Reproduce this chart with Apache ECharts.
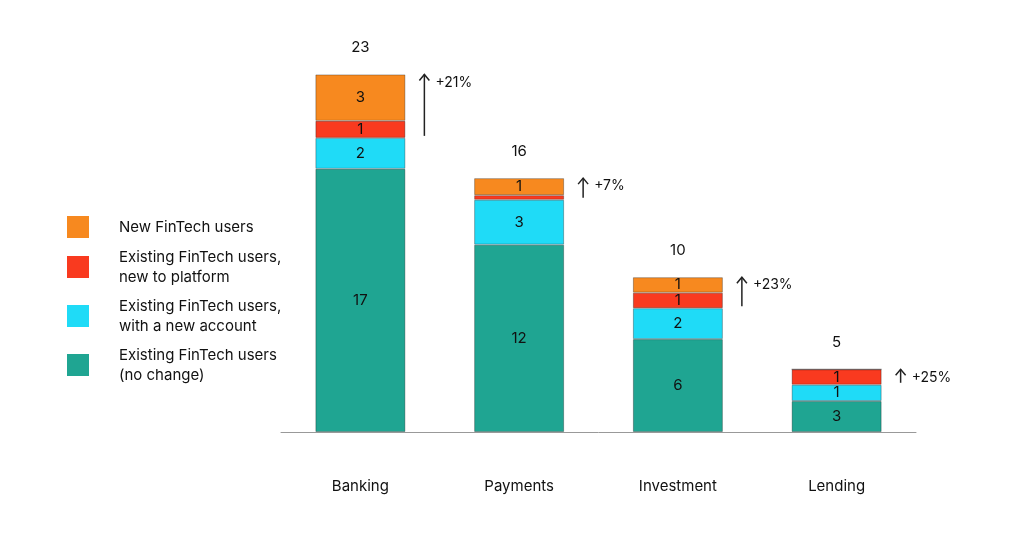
<!DOCTYPE html>
<html>
<head>
<meta charset="utf-8">
<script src="https://cdn.jsdelivr.net/npm/echarts@6/dist/echarts.min.js"></script>
<style>html,body{margin:0;padding:0;background:#fff;}#c{width:1024px;height:536px;}</style>
</head>
<body>
<div id="c"></div>
<script>
var categories = ['Banking', 'Payments', 'Investment', 'Lending'];
var seriesNames = ['Existing FinTech users\n(no change)', 'Existing FinTech users,\nwith a new account', 'Existing FinTech users,\nnew to platform', 'New FinTech users'];
var noChange = [17, 12.1, 6, 2];
var newAccount = [2, 2.9, 2, 1.05];
var newPlatform = [1.1, 0.3, 1, 1];
var newUsers = [3, 1.1, 1, 0];
var noChangeLabels = ['17', '12', '6', '3'];
var newAccountLabels = ['2', '3', '2', '1'];
var newPlatformLabels = ['1', '', '1', '1'];
var newUsersLabels = ['3', '1', '1', ''];
var totalLabels = ['23', '16', '10', '5'];
var growthLabels = ['+21%', '+7%', '+23%', '+25%'];
var colors = ['#1fa592', '#1fdbf7', '#f93a1f', '#f7891f'];

var FONT = 'Inter';
var chart = echarts.init(document.getElementById('c'));
var valueSets = [noChange, newAccount, newPlatform, newUsers];
var labelSets = [noChangeLabels, newAccountLabels, newPlatformLabels, newUsersLabels];

var series = valueSets.map(function (vals, s) {
  return {
    name: seriesNames[s],
    type: 'bar',
    stack: 'all',
    barWidth: 90,
    itemStyle: { color: colors[s], borderColor: 'rgba(0,0,0,0.3)', borderWidth: 1 },
    label: {
      show: true, position: 'inside', color: '#111', fontSize: 15, fontFamily: FONT,
      formatter: function (p) { return labelSets[s][p.dataIndex]; }
    },
    emphasis: { disabled: true },
    data: vals
  };
});

var arrowData = categories.map(function (c, i) {
  var base = noChange[i] + newAccount[i];
  var top = base + newPlatform[i] + newUsers[i];
  return [i, base, top];
});

series.push({
  type: 'custom',
  name: 'growth',
  silent: true,
  data: arrowData,
  encode: { x: 0, y: [1, 2] },
  renderItem: function (params, api) {
    var i = api.value(0);
    var pB = api.coord([i, api.value(1)]);
    var pT = api.coord([i, api.value(2)]);
    var x = pB[0] + 64;
    var yT = pT[1];
    var yB = pB[1] - 2;
    return {
      type: 'group',
      children: [
        { type: 'line', shape: { x1: x, y1: yT, x2: x, y2: yB }, style: { stroke: '#222', lineWidth: 1.5 } },
        { type: 'polyline', shape: { points: [[x - 5, yT + 6], [x, yT], [x + 5, yT + 6]] }, style: { stroke: '#222', lineWidth: 1.5, fill: null } },
        { type: 'text', x: x + 11, y: yT + 8, style: { text: growthLabels[i], fill: '#111', fontSize: 14, fontFamily: FONT, verticalAlign: 'middle', align: 'left' } },
        { type: 'text', x: pT[0], y: yT - 27, style: { text: totalLabels[i], fill: '#111', fontSize: 15, fontFamily: FONT, verticalAlign: 'middle', align: 'center' } }
      ]
    };
  },
  z: 10
});

chart.setOption({
  animation: false,
  backgroundColor: '#fff',
  grid: { left: 281, right: 108, top: 45, bottom: 104 },
  legend: {
    orient: 'vertical', left: 67, top: 216, padding: 0,
    itemWidth: 22, itemHeight: 22, itemGap: 9,
    icon: 'rect',
    itemStyle: { borderWidth: 0 },
    data: [seriesNames[3], seriesNames[2], seriesNames[1], seriesNames[0]],
    textStyle: { fontSize: 15, lineHeight: 20, color: '#111', fontFamily: FONT, padding: [0, 0, 0, 25] },
    selectedMode: false
  },
  xAxis: {
    type: 'category', data: categories,
    axisLine: { lineStyle: { color: '#999', width: 1 } },
    axisTick: { show: false },
    axisLabel: { color: '#111', fontSize: 15, fontFamily: FONT, margin: 47 }
  },
  yAxis: { type: 'value', min: 0, max: 25, show: false, splitLine: { show: false } },
  series: series
});
</script>
</body>
</html>
